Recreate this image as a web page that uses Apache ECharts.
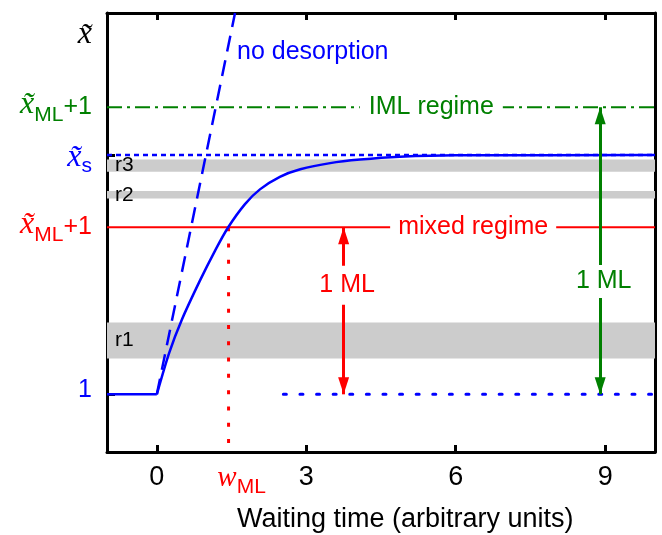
<!DOCTYPE html>
<html><head><meta charset="utf-8">
<script src="https://cdn.jsdelivr.net/npm/echarts@6/dist/echarts.min.js"></script>
<style>html,body{margin:0;padding:0;background:#fff}#c{width:662px;height:535px}</style>
</head><body><div id="c"></div>
<script>
// ---- data ----
const xRange = [-1, 10];
const yRange = [0.655, 3.281];
const xTicks = [0, 3, 6, 9];
const wML = 1.44;
const levelOne = 1;
const levelMixed = 2;
const levelS = 2.431;
const levelIML = 2.717;
const levelTilde = 3.15;
const yTickValues = [levelOne, levelS];
const yLabelValues = [levelOne, levelMixed, levelS, levelIML, levelTilde];
const yLabelTexts = ['{one|1}', '{xr|x\u0303}{subr|ML}{pr|+1}', '{xb|x\u0303}{subb|s}', '{xg|x\u0303}{subg|ML}{pg|+1}', '{xk|x\u0303}'];
const xLabelValues = [0, wML, 3, 6, 9];
const xLabelTexts = ['0', '{sp|}{w|w}{sub|ML}', '3', '6', '9'];
const flatX = [-1, 0];
const flatY = [1, 1];
const curveX = [0, 0.25, 0.5, 0.87, 1.17, 1.43, 1.77, 2.07, 2.47, 2.88, 3.48, 4.08, 4.88, 6, 10];
const curveY = [1, 1.25, 1.445, 1.683, 1.86, 1.998, 2.138, 2.226, 2.301, 2.346, 2.383, 2.404, 2.421, 2.43, 2.431];
const noDesX = [0, 1.57];
const noDesY = [1, 3.281];
const bandNames = ['r1', 'r2', 'r3'];
const bandLow = [1.214, 2.172, 2.331];
const bandHigh = [1.429, 2.216, 2.405];
const dottedOneStart = 2.54;
const arrowX = [3.75, 8.9];
const arrowTop = [levelMixed, levelIML];
const annotTexts = ['no desorption', 'IML regime', 'mixed regime', '1 ML', '1 ML'];
const annotX = [1.61, 5.51, 6.35, 3.82, 8.97];
const annotY = [3.048, levelIML, levelMixed, 1.653, 1.675];
const axisTitle = 'Waiting time (arbitrary units)';

// ---- styles ----
const RED = '#ff0000', GREEN = '#008000', BLUE = '#0000ff', BLACK = '#000000';
const SANS = '"Liberation Sans", Arial, sans-serif';
const SERIF = '"Liberation Serif", "Times New Roman", serif';
const annotColors = [BLUE, GREEN, RED, RED, GREEN];
const annotAlign = ['left', 'center', 'center', 'center', 'center'];
const annotPad = [[0, 0], [0, 9], [0, 8], [7, 3], [4, 3]];

const chart = echarts.init(document.getElementById('c'), null, {renderer: 'canvas'});
const xs = (c, size, pad) => ({fontFamily: SERIF, fontStyle: 'italic', fontSize: size || 30, color: c, padding: pad || [0, 0, 6, 0]});
const subs = (c) => ({fontFamily: SANS, fontSize: 21, color: c, padding: [16, 0, 0, 0]});
const plus = (c) => ({fontFamily: SANS, fontSize: 25, color: c});

const pairs = (xa, ya) => xa.map((x, i) => [x, ya[i]]);

const option = {
  animation: false,
  backgroundColor: '#fff',
  grid: {left: 107, right: 7, top: 13, bottom: 83, containLabel: false},
  xAxis: [{
    type: 'value', min: xRange[0], max: xRange[1], position: 'bottom',
    axisLine: {show: true, onZero: false, lineStyle: {color: BLACK, width: 3}},
    axisTick: {show: true, inside: true, length: 7, customValues: xTicks, lineStyle: {color: BLACK, width: 3}},
    splitLine: {show: false},
    axisLabel: {
      show: true, customValues: xLabelValues, margin: 12, color: BLACK, fontFamily: SANS, fontSize: 27,
      formatter: (v) => { const i = xLabelValues.findIndex(t => Math.abs(t - v) < 1e-6); return i >= 0 ? xLabelTexts[i] : ''; },
      rich: {
        sp: {width: 26},
        w: {fontFamily: SERIF, fontStyle: 'italic', fontSize: 29, color: RED, padding: [0, 0, 10, 0]},
        sub: {fontFamily: SANS, fontSize: 21, color: RED, padding: [8, 0, 0, 0]}
      }
    }
  }, {
    type: 'value', min: xRange[0], max: xRange[1], position: 'top',
    axisLine: {show: true, onZero: false, lineStyle: {color: BLACK, width: 3}},
    axisTick: {show: true, inside: true, length: 7, customValues: xTicks, lineStyle: {color: BLACK, width: 3}},
    splitLine: {show: false}, axisLabel: {show: false}
  }],
  yAxis: [{
    type: 'value', min: yRange[0], max: yRange[1], position: 'left',
    axisLine: {show: true, onZero: false, lineStyle: {color: BLACK, width: 3}},
    axisTick: {show: true, inside: true, length: 8, customValues: yTickValues, lineStyle: {color: BLACK, width: 3}},
    splitLine: {show: false},
    axisLabel: {
      show: true, customValues: yLabelValues, margin: 15,
      formatter: (v) => { const i = yLabelValues.findIndex(t => Math.abs(t - v) < 1e-6); return i >= 0 ? yLabelTexts[i] : ''; },
      rich: {
        one: {fontFamily: SANS, fontSize: 25, color: BLUE, padding: [0, 0, 8, 0]},
        xr: xs(RED, 32), subr: subs(RED), pr: plus(RED),
        xg: xs(GREEN, 32), subg: subs(GREEN), pg: plus(GREEN),
        xb: xs(BLUE, 32, [4, 0, 0, 0]), subb: {fontFamily: SANS, fontSize: 21, color: BLUE, padding: [22, 0, 0, 0]},
        xk: xs(BLACK, 32, [0, 0, 0, 0])
      }
    }
  }, {
    type: 'value', min: yRange[0], max: yRange[1], position: 'right',
    axisLine: {show: true, onZero: false, lineStyle: {color: BLACK, width: 3}},
    axisTick: {show: false}, splitLine: {show: false}, axisLabel: {show: false}
  }],
  series: [
    { // grey bands
      type: 'line', data: [], z: 1, silent: true,
      markArea: {
        silent: true,
        itemStyle: {color: '#cccccc'},
        label: {show: true, position: 'insideLeft', distance: 8, color: BLACK, fontFamily: SANS, fontSize: 21},
        data: bandNames.map((n, i) => [{name: n, yAxis: bandLow[i]}, {yAxis: bandHigh[i]}])
      }
    },
    { // mixed regime level
      type: 'line', data: pairs([xRange[0], xRange[1]], [levelMixed, levelMixed]), z: 2, symbol: 'none',
      lineStyle: {color: RED, width: 2}
    },
    { // IML regime level
      type: 'line', data: pairs([xRange[0], xRange[1]], [levelIML, levelIML]), z: 2, symbol: 'none',
      lineStyle: {color: GREEN, width: 2, type: [15, 5, 3, 5]}
    },
    { // x_s level
      type: 'line', data: pairs([xRange[0], xRange[1]], [levelS, levelS]), z: 2, symbol: 'none',
      lineStyle: {color: BLUE, width: 2.5, type: [5, 4]}
    },
    { // level 1 dotted
      type: 'line', data: pairs([dottedOneStart, xRange[1]], [levelOne, levelOne]), z: 2, symbol: 'none',
      lineStyle: {color: BLUE, width: 3, type: [3, 13.6], cap: 'round'}
    },
    { // w_ML vertical dotted
      type: 'line', data: pairs([wML, wML], [levelMixed, yRange[0]]), z: 2, symbol: 'none',
      lineStyle: {color: RED, width: 3, type: [4, 12.3]}
    },
    { // flat part
      type: 'line', data: pairs(flatX, flatY), z: 4, symbol: 'none',
      lineStyle: {color: BLUE, width: 2.5}
    },
    { // coverage curve
      type: 'line', data: pairs(curveX, curveY), z: 4, symbol: 'none', smooth: 0.3,
      lineStyle: {color: BLUE, width: 2.5}
    },
    { // no desorption
      type: 'line', data: pairs(noDesX, noDesY), z: 4, symbol: 'none',
      lineStyle: {color: BLUE, width: 2.5, type: [16, 9]}
    },
    { // arrows
      type: 'line', data: [], z: 5, silent: true,
      markLine: {
        silent: true, symbol: ['triangle', 'triangle'], symbolSize: [11, 17], symbolOffset: [[0, 8.5], [0, 8.5]],
        label: {show: false}, animation: false,
        data: arrowX.map((x, i) => [
          {coord: [x, levelOne], lineStyle: {color: i ? GREEN : RED, width: 3, type: 'solid'}, itemStyle: {color: i ? GREEN : RED}},
          {coord: [x, arrowTop[i]]}
        ])
      }
    },
    { // annotations
      type: 'scatter', z: 8, symbolSize: 1, itemStyle: {color: 'rgba(0,0,0,0)', opacity: 1}, silent: true,
      data: annotX.map((x, i) => ({
        value: [x, annotY[i]],
        label: {
          show: true, position: 'inside', formatter: annotTexts[i], color: annotColors[i], align: annotAlign[i], opacity: 1,
          fontFamily: SANS, fontSize: 25, backgroundColor: i === 0 ? 'transparent' : '#ffffff', padding: annotPad[i]
        }
      }))
    }
  ],
  graphic: [{
    type: 'text', left: 237, top: 506, silent: true,
    style: {text: axisTitle, fill: BLACK, font: '27px ' + SANS}
  }]
};
chart.setOption(option);
</script>
</body></html>
